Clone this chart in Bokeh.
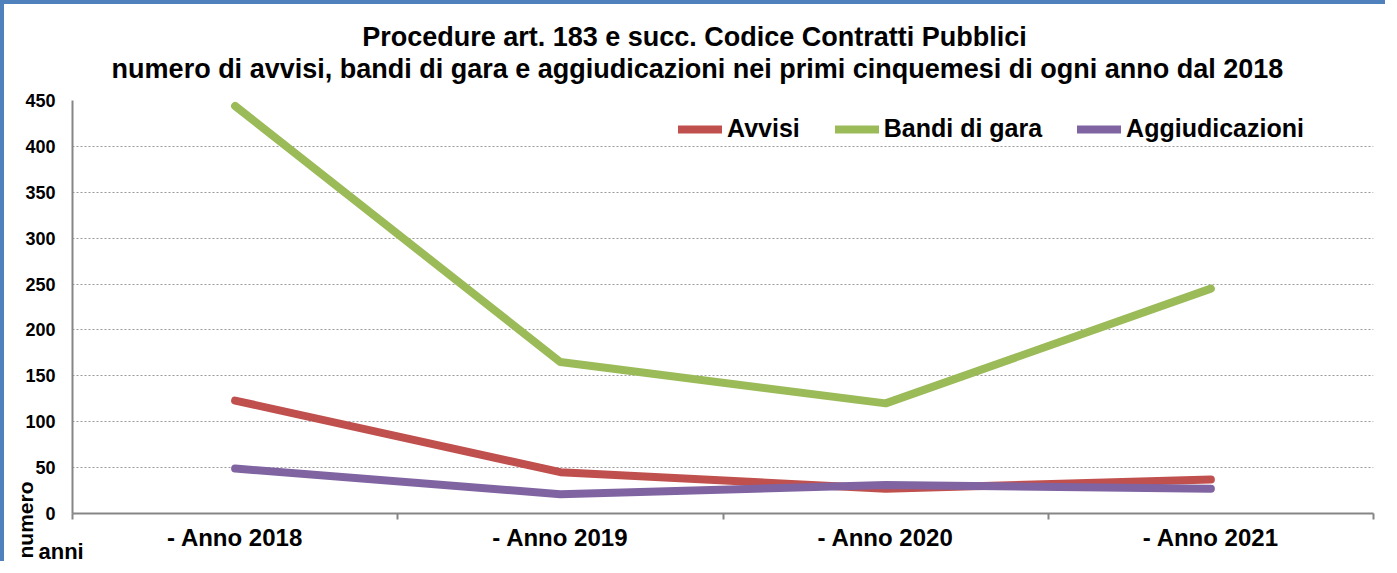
import math
from bokeh.plotting import figure
from bokeh.models import (Range1d, FixedTicker, Legend, LegendItem, ColumnDataSource)
from bokeh.core.properties import value
from bokeh.embed import file_html
from bokeh.resources import INLINE

# ---- data ----
years = ["- Anno 2018", "- Anno 2019", "- Anno 2020", "- Anno 2021"]
avvisi = [123, 45, 27, 37]
bandi = [444, 165, 120, 245]
aggiudicazioni = [49, 21, 31, 27]
y_ticks = [0, 50, 100, 150, 200, 250, 300, 350, 400, 450]
title_line1 = "Procedure art. 183 e succ. Codice Contratti Pubblici"
title_line2 = "numero di avvisi, bandi di gara e aggiudicazioni nei primi cinquemesi di ogni anno dal 2018"
x_name = "anni"
y_name = "numero"

FONT = "Liberation Sans"
RED = "#C0504D"
GREEN = "#9BBB59"
PURPLE = "#8064A2"
AXIS = "#868686"

W, H = 1385, 561
ML, MR, MT, MB = 68, 16, 96, 52
FW, FH = W - ML - MR, H - MT - MB
Y_MAX = 450
xpos = [i + 0.5 for i in range(len(years))]

p = figure(width=W, height=H, output_backend="svg", toolbar_location=None,
           x_range=Range1d(0, len(years)), y_range=Range1d(0, Y_MAX),
           min_border_left=ML, min_border_right=MR, min_border_top=MT, min_border_bottom=MB)
p.styles = {"border-top": "4px solid #4F81BD", "border-left": "4px solid #4F81BD"}
p.outline_line_color = None
p.background_fill_color = "white"
p.border_fill_color = "white"

src = ColumnDataSource(dict(x=xpos, avvisi=avvisi, bandi=bandi, agg=aggiudicazioni))
r_red = p.line("x", "avvisi", source=src, line_color=RED, line_width=8, line_cap="round", line_join="round")
r_green = p.line("x", "bandi", source=src, line_color=GREEN, line_width=8, line_cap="round", line_join="round")
r_purple = p.line("x", "agg", source=src, line_color=PURPLE, line_width=8, line_cap="round", line_join="round")

# x axis
xa = p.xaxis[0]
xa.ticker = FixedTicker(ticks=xpos, minor_ticks=list(range(len(years) + 1)))
xa.major_label_overrides = {x: lab for x, lab in zip(xpos, years)}
xa.major_tick_line_color = None
xa.minor_tick_line_color = AXIS
xa.minor_tick_line_width = 2
xa.minor_tick_out = 6
xa.minor_tick_in = 0
xa.axis_line_color = AXIS
xa.axis_line_width = 2
xa.major_label_text_font = FONT
xa.major_label_text_font_style = "bold"
xa.major_label_text_font_size = "24px"
xa.major_label_text_color = "black"
xa.major_label_standoff = 4

# y axis
ya = p.yaxis[0]
ya.ticker = FixedTicker(ticks=y_ticks)
ya.major_tick_line_color = None
ya.minor_tick_line_color = None
ya.axis_line_color = AXIS
ya.axis_line_width = 2
ya.major_label_text_font = FONT
ya.major_label_text_font_style = "bold"
ya.major_label_text_font_size = "18px"
ya.major_label_text_color = "black"
ya.major_label_standoff = 11

p.xgrid.grid_line_color = None
p.ygrid.grid_line_color = "#9a9a9a"
p.ygrid.grid_line_dash = "2 2"
p.ygrid.grid_line_width = 1

legend = Legend(items=[LegendItem(label="Avvisi", renderers=[r_red]),
                       LegendItem(label="Bandi di gara", renderers=[r_green]),
                       LegendItem(label="Aggiudicazioni", renderers=[r_purple])],
                orientation="horizontal", location=(606, 370),
                label_text_font=FONT, label_text_font_style="bold", label_text_font_size="25px",
                label_text_color="black", glyph_width=44, glyph_height=28, label_height=28,
                label_standoff=5, spacing=35, padding=0, margin=0,
                border_line_color=None, background_fill_alpha=0)
p.add_layout(legend)

# texts outside the frame (pixel offsets from the frame's bottom-left corner)
def px_to_x(px):
    return px / FW * len(years)

def px_to_y(py):
    return py / FH * Y_MAX

txt = dict(level="overlay", text_font=value(FONT), text_font_style="bold",
           text_color="black", text_baseline="alphabetic")
p.text(x=[px_to_x(622)], y=[px_to_y(477)], text=[title_line1], text_align="center",
       text_font_size="27px", **txt)
p.text(x=[px_to_x(625)], y=[px_to_y(445)], text=[title_line2], text_align="center",
       text_font_size="27px", **txt)
p.text(x=[px_to_x(-34)], y=[px_to_y(-38)], text=[x_name], text_align="left",
       text_font_size="22px", **txt)
p.text(x=[px_to_x(-47)], y=[px_to_y(-45)], text=[y_name], text_align="left", angle=math.pi / 2,
       text_font_size="21px", **txt)

open("out.html", "w").write(file_html(p, INLINE))
